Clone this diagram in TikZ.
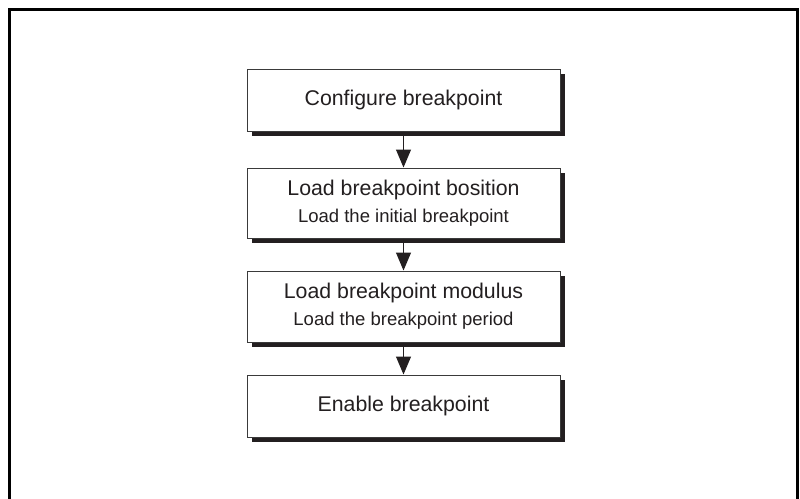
\documentclass[tikz,border=0pt]{standalone}
\usepackage{fontspec}
\setmainfont{Liberation Sans}
\usetikzlibrary{arrows.meta,shadows}
\definecolor{ink}{HTML}{231F20}
\definecolor{edge}{HTML}{3A3A3A}
\newcommand{\subtxt}[1]{{\fontsize{18.5}{22}\selectfont #1}}
\tikzset{
  stepbox/.style={draw=edge, line width=1pt, fill=white, text=ink,
    minimum width=313pt, align=center,
    font=\fontsize{21.3}{26}\selectfont,
    drop shadow={shadow xshift=4.5pt, shadow yshift=-4.5pt, fill=ink, opacity=1}},
  flow/.style={draw=ink, line width=1pt, -{Triangle[width=15pt,length=18pt]}},
  frame/.style={draw=black, line width=3pt}
}
\begin{document}
\begin{tikzpicture}[x=1pt,y=-1pt]
\useasboundingbox (0,0) rectangle (800,498);
\draw[frame] (9,510) -- (9,9) -- (797.5,9) -- (797.5,510);
\node[stepbox, minimum height=62pt] (b1) at (403.5,100) {Configure breakpoint};
\node[stepbox, minimum height=70pt] (b2) at (403.5,203) {Load breakpoint bosition\\[1pt]\subtxt{Load the initial breakpoint}};
\node[stepbox, minimum height=71pt] (b3) at (403.5,306.5) {Load breakpoint modulus\\[1pt]\subtxt{Load the breakpoint period}};
\node[stepbox, minimum height=62pt] (b4) at (403.5,406) {Enable breakpoint};
\draw[flow] (b1.south) -- (b2.north);
\draw[flow] (b2.south) -- (b3.north);
\draw[flow] (b3.south) -- (b4.north);
\end{tikzpicture}
\end{document}
